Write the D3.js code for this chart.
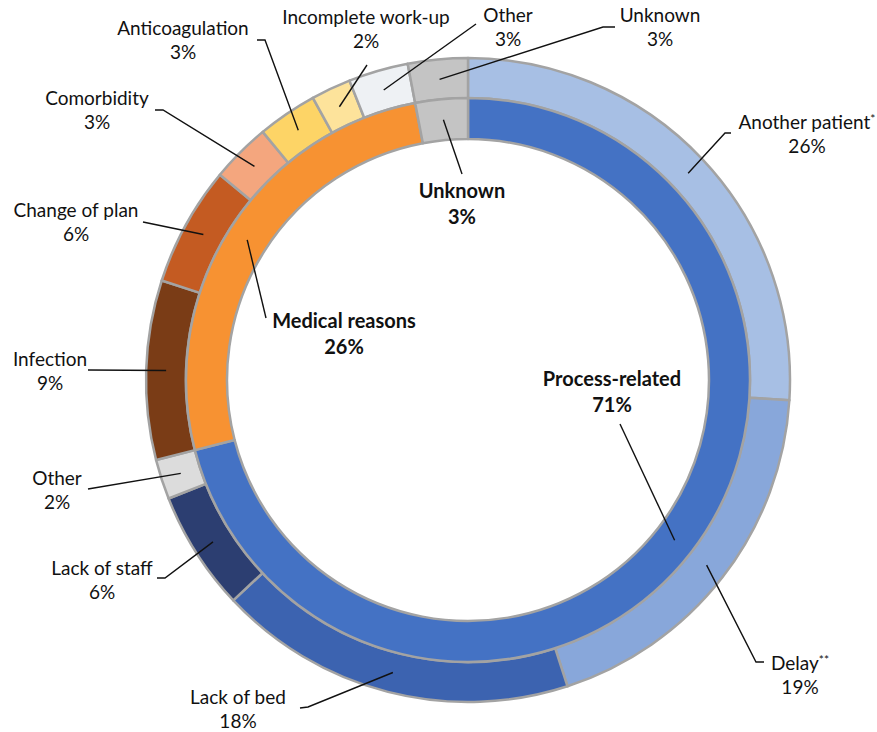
<!DOCTYPE html>
<html>
<head>
<meta charset="utf-8">
<script src="https://cdn.jsdelivr.net/npm/d3@7"></script>
<style>
  body { margin: 0; background: #fff; }
  text { font-family: Lato, "Open Sans", sans-serif; fill: #111; }
</style>
</head>
<body>
<div id="chart"></div>
<script>
// inner ring: main reason groups
const innerCategories = ["Process-related", "Medical reasons", "Unknown"];
const innerValues = [71, 26, 3];

// outer ring: detailed reasons (same order, clockwise from the top)
const outerCategories = ["Another patient*", "Delay**", "Lack of bed", "Lack of staff", "Other",
  "Infection", "Change of plan", "Comorbidity", "Anticoagulation", "Incomplete work-up", "Other", "Unknown"];
const outerValues = [26, 19, 18, 6, 2, 9, 6, 3, 3, 2, 3, 3];

const innerColors = ["#4472c4", "#f79232", "#c4c4c4"];
const outerColors = ["#a7bfe4", "#88a7da", "#3c63b0", "#2c3e71", "#dcdcdc",
  "#7a3c16", "#c45b22", "#f4a67e", "#fdd466", "#fde39b", "#eef1f4", "#c4c4c4"];

// label placement: text centre/baseline and the leader's starting points
const innerLayout = [
  { x: 612, y: 386, lead: [[620, 424]] },
  { x: 344, y: 328, lead: [[266, 318]] },
  { x: 462, y: 198, lead: [[462, 174]] }
];
const outerLayout = [
  { x: 807, y: 129, lead: [[731, 133], [725, 133]] },
  { x: 800, y: 670, lead: [[764, 662], [756, 662]] },
  { x: 238, y: 704, lead: [[300, 708], [308, 707]] },
  { x: 102, y: 575, lead: [[157, 578], [165, 578]] },
  { x: 57, y: 485, lead: [[88, 489]] },
  { x: 50, y: 366, lead: [[88, 370]] },
  { x: 76, y: 217, lead: [[143, 222]] },
  { x: 97, y: 105, lead: [[155, 110], [163, 110]] },
  { x: 183, y: 35, lead: [[257, 40], [265, 40]] },
  { x: 366, y: 24, lead: [[367, 65]] },
  { x: 508, y: 22, lead: [[476, 24]] },
  { x: 660, y: 22, lead: [[615, 27], [603, 27]] }
];

const width = 877, height = 732;
const cx = 468, cy = 380;
const r0 = 241, r1 = 282, r2 = 322;

const svg = d3.select("#chart")
  .append("svg")
  .attr("width", width)
  .attr("height", height);

const g = svg.append("g").attr("transform", `translate(${cx},${cy})`);

const pie = d3.pie().sort(null).startAngle(0).endAngle(2 * Math.PI);
const innerArc = d3.arc().innerRadius(r0).outerRadius(r1);
const outerArc = d3.arc().innerRadius(r1).outerRadius(r2);

const innerPie = pie(innerValues);
const outerPie = pie(outerValues);

function drawRing(arcs, arcGen, colors) {
  g.append("g")
    .selectAll("path")
    .data(arcs)
    .join("path")
    .attr("d", arcGen)
    .attr("fill", (d, i) => colors[i])
    .attr("stroke", "#a3a3a3")
    .attr("stroke-width", 2.5)
    .attr("stroke-linejoin", "round");
}

drawRing(outerPie, outerArc, outerColors);
drawRing(innerPie, innerArc, innerColors);

// leader lines go from the label to the centroid of its segment
const line = d3.line();
function drawLeaders(arcs, arcGen, layout) {
  svg.append("g")
    .selectAll("path")
    .data(arcs)
    .join("path")
    .attr("d", (d, i) => {
      const c = arcGen.centroid(d);
      return line(layout[i].lead.concat([[c[0] + cx, c[1] + cy]]));
    })
    .attr("fill", "none")
    .attr("stroke", "#111")
    .attr("stroke-width", 1.4);
}
drawLeaders(outerPie, outerArc, outerLayout);
drawLeaders(innerPie, innerArc, innerLayout);

function drawLabels(names, values, layout, bold) {
  const size = bold ? 20 : 19;
  const t = svg.append("g")
    .selectAll("text")
    .data(names)
    .join("text")
    .attr("text-anchor", "middle")
    .attr("font-size", size)
    .attr("font-weight", bold ? 700 : 400)
    .attr("x", (d, i) => layout[i].x)
    .attr("y", (d, i) => layout[i].y);

  t.each(function (d, i) {
    const el = d3.select(this);
    const m = d.match(/^(.*?)(\**)$/);
    el.append("tspan").text(m[1]);
    if (m[2]) {
      el.append("tspan")
        .attr("font-size", 12)
        .attr("dy", -6)
        .text(m[2]);
    }
    el.append("tspan")
      .attr("x", layout[i].x)
      .attr("y", layout[i].y + (bold ? 26 : 24))
      .text(values[i] + "%");
  });
}
drawLabels(outerCategories, outerValues, outerLayout, false);
drawLabels(innerCategories, innerValues, innerLayout, true);
</script>
</body>
</html>
